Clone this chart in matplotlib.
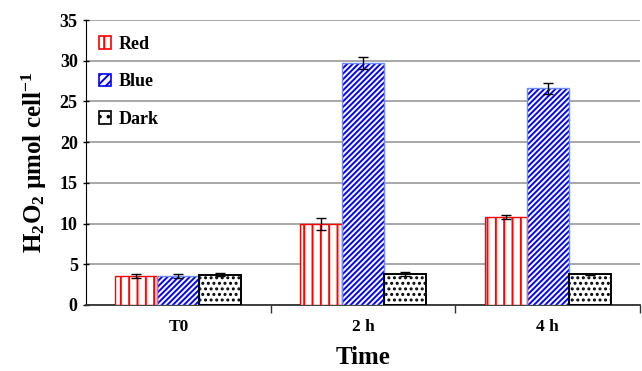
import matplotlib
matplotlib.use("Agg")
import matplotlib.pyplot as plt
from matplotlib.patches import Patch
import numpy as np

# Data: H2O2 per cell under three light treatments
times = ["T0", "2 h", "4 h"]
series = ["Red", "Blue", "Dark"]
red_vals = [3.6, 9.9, 10.8]
red_err = [0.25, 0.75, 0.2]
blue_vals = [3.6, 29.7, 26.6]
blue_err = [0.25, 0.7, 0.7]
dark_vals = [3.7, 3.8, 3.75]
dark_err = [0.2, 0.2, 0.05]

plt.rcParams["font.family"] = ["Liberation Serif", "DejaVu Serif"]
plt.rcParams["font.weight"] = "bold"
plt.rcParams["mathtext.fontset"] = "custom"
plt.rcParams["mathtext.rm"] = "Liberation Serif:bold"
plt.rcParams["mathtext.bf"] = "Liberation Serif:bold"
plt.rcParams["mathtext.default"] = "bf"
plt.rcParams["hatch.linewidth"] = 1.4

fig = plt.figure(figsize=(6.42, 3.71), dpi=100)
ax = fig.add_axes([0.134, 0.178, 0.863, 0.768])

x = np.arange(len(times))
w = 0.227
styles = [
    dict(vals=red_vals, err=red_err, hatchc="#ff0000", edge="#ff0000",
         hatch="||", legend_hatch="||", lw=1.0),
    dict(vals=blue_vals, err=blue_err, hatchc="#0000ff", edge="#6f8cff",
         hatch="//////", legend_hatch="////", lw=1.0),
    dict(vals=dark_vals, err=dark_err, hatchc="#000000", edge="#000000",
         hatch="...", legend_hatch="..", lw=1.4),
]
handles = []
for i, (name, st) in enumerate(zip(series, styles)):
    pos = x + (i - 1) * w
    ax.bar(pos, st["vals"], width=w, facecolor="white", edgecolor=st["hatchc"],
           hatch=st["hatch"], linewidth=0, zorder=3)
    ax.bar(pos, st["vals"], width=w, fill=False, edgecolor=st["edge"],
           linewidth=st["lw"], zorder=3.5)
    ax.errorbar(pos, st["vals"], yerr=st["err"], fmt="none", ecolor="black",
                elinewidth=1.0, capsize=3.5, capthick=1.0, zorder=4)
    handles.append(Patch(facecolor="white", edgecolor=st["hatchc"],
                         hatch=st["legend_hatch"], linewidth=1.2, label=name))

ax.set_xlim(-0.5, 2.5)
ax.set_ylim(0, 35)
ax.set_yticks(np.arange(0, 36, 5))
ax.yaxis.grid(True, color="#a0a0a0", linewidth=1.3, zorder=0)
ax.set_axisbelow(True)

ax.set_xticks(x)
ax.set_xticklabels(times, fontsize=12.5, fontweight="bold")
ax.tick_params(axis="x", length=0, pad=10)
ax.set_xticks([0.5, 1.5, 2.5], minor=True)
ax.tick_params(axis="x", which="minor", length=6, width=1, color="#333333")
ax.tick_params(axis="y", labelsize=13, length=5, width=1, direction="inout")
for lab in ax.get_yticklabels():
    lab.set_fontweight("bold")

for s in ["top", "right"]:
    ax.spines[s].set_visible(False)
ax.spines["left"].set_color("black")
ax.spines["bottom"].set_color("#333333")
ax.spines["bottom"].set_linewidth(1.3)

ax.set_xlabel("Time", fontsize=18, fontweight="bold", labelpad=8)
ax.set_ylabel(r"H$_{2}$O$_{2}$ µmol cell$^{-1}$",
              fontsize=18, fontweight="bold", labelpad=8)

leg = ax.legend(handles=handles, loc="upper left", frameon=False,
                prop={"weight": "bold", "size": 13},
                handlelength=0.7, handleheight=0.7, handletextpad=0.4,
                labelspacing=1.15, borderaxespad=0.3,
                bbox_to_anchor=(0.0, 0.99))

fig.savefig("out.png", dpi=100)
